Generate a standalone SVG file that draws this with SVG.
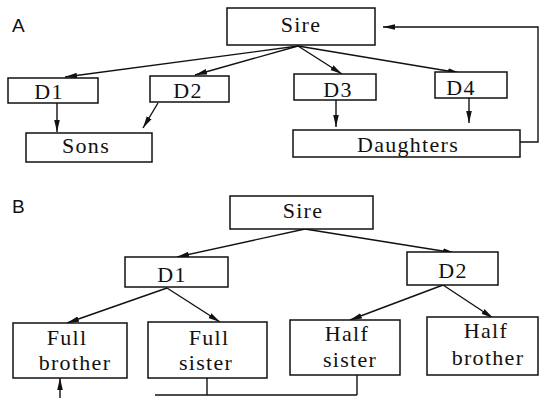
<svg xmlns="http://www.w3.org/2000/svg" width="540" height="398" viewBox="0 0 540 398">
<style>
.box{fill:#fff;stroke:#111;stroke-width:1.5}
.t{font-family:'Liberation Serif','Times New Roman',serif;font-size:22px;fill:#111;text-anchor:middle;letter-spacing:1.3px}
.lab{font-family:'Liberation Sans',Arial,sans-serif;font-size:19px;fill:#111}
.c{fill:none;stroke:#111;stroke-width:1.4}
.a{marker-end:url(#ah)}
</style>
<defs>
<marker id="ah" markerUnits="userSpaceOnUse" markerWidth="13" markerHeight="8" refX="12" refY="4" orient="auto">
<path d="M0,1.2 L12,4 L0,6.8 Z" fill="#111"/>
</marker>
</defs>
<rect width="540" height="398" fill="#fff"/>
<text class="lab" x="12" y="32">A</text>
<text class="lab" x="12" y="213">B</text>
<g id="connectors">
<line class="c a" x1="298" y1="46" x2="65" y2="77"/>
<line class="c a" x1="298" y1="46" x2="195" y2="75"/>
<line class="c a" x1="298" y1="46" x2="342" y2="74"/>
<line class="c a" x1="298" y1="46" x2="460" y2="73"/>
<line class="c a" x1="57" y1="103" x2="57" y2="132"/>
<line class="c a" x1="158" y1="103" x2="143" y2="128"/>
<line class="c a" x1="336" y1="100" x2="336" y2="127"/>
<line class="c a" x1="469" y1="98" x2="469" y2="123"/>
<polyline class="c a" points="520,142 538,142 538,27 383,27"/>
<line class="c a" x1="305" y1="229" x2="177" y2="257"/>
<line class="c a" x1="305" y1="229" x2="455" y2="253"/>
<line class="c a" x1="167" y1="288" x2="67" y2="323"/>
<line class="c a" x1="167" y1="288" x2="220" y2="322"/>
<line class="c a" x1="443" y1="285" x2="350" y2="320"/>
<line class="c a" x1="443" y1="285" x2="493" y2="318"/>
<polyline class="c" points="207,378 207,395"/>
<polyline class="c" points="357,375 357,395"/>
<line class="c" x1="155" y1="395" x2="357" y2="395"/>
<line class="c a" x1="60" y1="398" x2="60" y2="378"/>
</g>
<g id="A-sire"><rect class="box" x="227" y="8" width="148" height="37"/><text class="t" x="301" y="32">Sire</text></g>
<g id="A-d1"><rect class="box" x="8" y="78" width="90" height="25"/><text class="t" x="49" y="99">D1</text></g>
<g id="A-d2"><rect class="box" x="150" y="76" width="79" height="26"/><text class="t" x="188" y="98">D2</text></g>
<g id="A-d3"><rect class="box" x="294" y="74" width="82" height="26"/><text class="t" x="338" y="97">D3</text></g>
<g id="A-d4"><rect class="box" x="435" y="72" width="72" height="26"/><text class="t" x="461" y="95">D4</text></g>
<g id="A-sons"><rect class="box" x="26" y="133" width="126" height="29"/><text class="t" x="86" y="153">Sons</text></g>
<g id="A-daughters"><rect class="box" x="293" y="130" width="227" height="27"/><text class="t" x="408" y="152">Daughters</text></g>
<g id="B-sire"><rect class="box" x="230" y="196" width="143" height="33"/><text class="t" x="303" y="218">Sire</text></g>
<g id="B-d1"><rect class="box" x="125" y="257" width="103" height="30"/><text class="t" x="172" y="282">D1</text></g>
<g id="B-d2"><rect class="box" x="407" y="252" width="91" height="33"/><text class="t" x="453" y="278">D2</text></g>
<g id="B-fullbrother"><rect class="box" x="13" y="323" width="114" height="55"/><text class="t" x="67" y="345">Full</text><text class="t" x="75" y="370">brother</text></g>
<g id="B-fullsister"><rect class="box" x="148" y="322" width="119" height="56"/><text class="t" x="209" y="345">Full</text><text class="t" x="206" y="370">sister</text></g>
<g id="B-halfsister"><rect class="box" x="290" y="320" width="110" height="55"/><text class="t" x="347" y="341">Half</text><text class="t" x="350" y="367">sister</text></g>
<g id="B-halfbrother"><rect class="box" x="427" y="317" width="111" height="58"/><text class="t" x="486" y="338">Half</text><text class="t" x="488" y="365">brother</text></g>
</svg>
